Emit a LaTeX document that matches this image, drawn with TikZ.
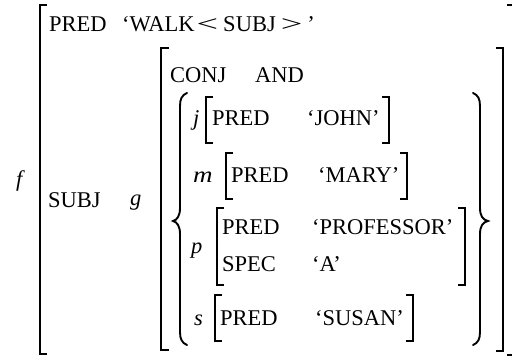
\documentclass[tikz,border=0pt]{standalone}
\usepackage{fontspec}
\setmainfont{Liberation Serif}
\newcommand{\avmsize}{\fontsize{22.5}{25}\selectfont}
\newcommand{\lt}{\hspace{2pt}\scalebox{1.7}[1]{<}\hspace{5pt}}
\newcommand{\gt}{\hspace{5pt}\scalebox{1.7}[1]{>}\hspace{5pt}}
\tikzset{
  lbl/.style={anchor=base west, inner sep=0pt, font=\avmsize},
  var/.style={lbl, font=\avmsize\itshape},
  brk/.style={line width=1.3pt},
  brc/.style={line width=1.9pt, line cap=round}
}
\begin{document}
\begin{tikzpicture}[x=1pt, y=-1pt]
\useasboundingbox (0,0) rectangle (512,358);

% outer f-structure
\draw[brk] (47,5) -- (40,5) -- (40,354) -- (47,354);
\draw[brk] (507,5) -- (513.5,5) -- (513.5,355) -- (507,355);
\node[var] (f) at (16,187) {f};
\node[lbl] (pred) at (49,32) {PRED};
\node[lbl] (walk) at (122,32) {‘WALK\lt SUBJ\gt’};
\node[lbl] (subj) at (48,208) {SUBJ};

% coordinated subject g
\node[var] (g) at (130,206) {g};
\draw[brk] (169,48) -- (161,48) -- (161,350) -- (169,350);
\draw[brk] (496,48) -- (503,48) -- (503,351) -- (496,351);
\node[lbl] (conj) at (170,83) {CONJ};
\node[lbl] (and) at (255,83) {AND};

% set braces
\draw[brc] (187,93) .. controls (182,95) and (180,99) .. (180,106) -- (180,208)
  .. controls (180,216) and (177,220) .. (173,221)
  .. controls (177,222) and (180,226) .. (180,234) -- (180,332)
  .. controls (180,339) and (182,343) .. (187,345);
\draw[brc] (473,93) .. controls (478,95) and (480,99) .. (480,106) -- (480,208)
  .. controls (480,216) and (483,220) .. (488,221)
  .. controls (483,222) and (480,226) .. (480,234) -- (480,332)
  .. controls (480,339) and (478,343) .. (473,345);

% conjunct j
\node[var] (j) at (193,126) {j};
\draw[brk] (213,97) -- (206,97) -- (206,143) -- (213,143);
\node[lbl] (jpred) at (212,126) {PRED};
\node[lbl] (john) at (307,126) {‘JOHN’};
\draw[brk] (382,97) -- (389,97) -- (389,143) -- (382,143);

% conjunct m
\node[var] (m) at (193,183) {\scalebox{1.2}[1]{m}};
\draw[brk] (233,153) -- (226,153) -- (226,199) -- (233,199);
\node[lbl] (mpred) at (231,183) {PRED};
\node[lbl] (mary) at (318,183) {‘MARY’};
\draw[brk] (400,153) -- (407,153) -- (407,199) -- (400,199);

% conjunct p
\node[var] (p) at (191,254) {p};
\draw[brk] (224,208) -- (217,208) -- (217,285) -- (224,285);
\node[lbl] (ppred) at (222,235) {PRED};
\node[lbl] (prof) at (312,235) {‘PROFESSOR’};
\node[lbl] (spec) at (222,272) {SPEC};
\node[lbl] (a) at (312,272) {‘A’};
\draw[brk] (458,208) -- (465,208) -- (465,285) -- (458,285);

% conjunct s
\node[var] (s) at (194,326) {s};
\draw[brk] (222,295) -- (215,295) -- (215,341) -- (222,341);
\node[lbl] (spred) at (220,326) {PRED};
\node[lbl] (susan) at (315,326) {‘SUSAN’};
\draw[brk] (406,295) -- (413,295) -- (413,341) -- (406,341);
\end{tikzpicture}
\end{document}
